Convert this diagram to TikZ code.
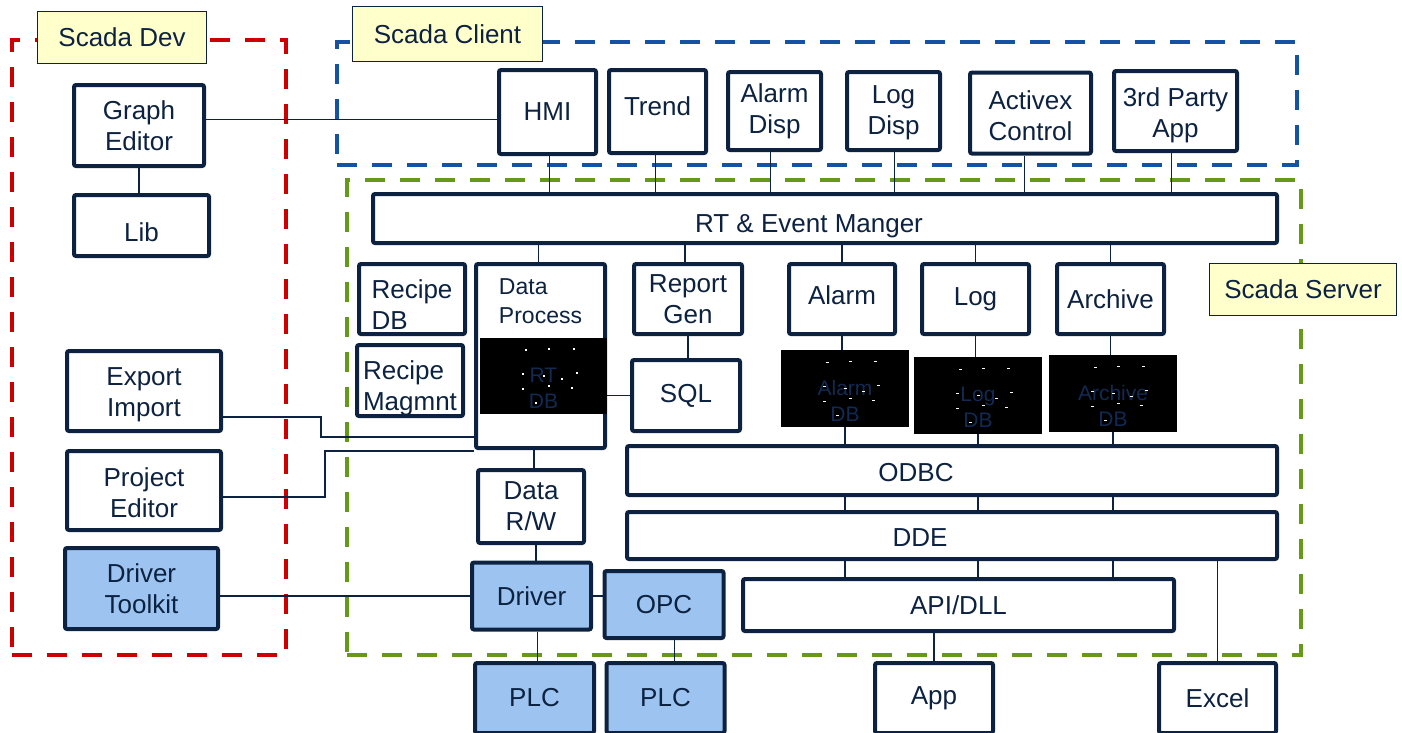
\documentclass[tikz,border=0pt]{standalone}
\usepackage{fontspec}
\setmainfont{Liberation Sans}
\usepackage{tikz}
\usetikzlibrary{shapes,positioning}
\definecolor{navy}{RGB}{12,34,64}
\definecolor{hwblue}{RGB}{157,195,240}
\definecolor{tagyellow}{RGB}{255,255,204}
\definecolor{devred}{RGB}{204,0,0}
\definecolor{clientblue}{RGB}{22,82,163}
\definecolor{servergreen}{RGB}{102,153,26}
\definecolor{dbnavy}{RGB}{18,42,82}
\tikzstyle{box} = [rectangle, draw=navy, line width=4pt, rounded corners=2pt, fill=white, text=navy, align=center, inner sep=0pt, font=\fontsize{26}{31}\selectfont]
\tikzstyle{hwbox} = [box, fill=hwblue]
\tikzstyle{boxtext} = [text=navy, align=center, inner sep=0pt, font=\fontsize{26}{31}\selectfont]
\tikzstyle{dbbox} = [rectangle, fill=black, inner sep=0pt, minimum width=128pt, minimum height=77pt]
\tikzstyle{dbtext} = [text=dbnavy, align=center, inner sep=0pt, yshift=-12pt, font=\fontsize{21}{26}\selectfont]
\tikzstyle{tag} = [rectangle, draw=navy, line width=1.2pt, fill=tagyellow, text=navy, inner sep=0pt, font=\fontsize{26}{31}\selectfont]
\tikzstyle{frame} = [rectangle, line width=4.5pt, dash pattern=on 20pt off 15pt, inner sep=0pt]
\tikzstyle{link} = [draw=navy, line width=1.5pt]

\begin{document}
\begin{tikzpicture}[x=1pt, y=-1pt]
    \useasboundingbox (0,0) rectangle (1402,732);

    % Frames
    \node[frame, draw=devred, minimum width=274pt, minimum height=615pt] (devframe) at (149,347.5) {};
    \node[frame, draw=clientblue, minimum width=960pt, minimum height=123pt] (clientframe) at (817,103.5) {};
    \node[frame, draw=servergreen, minimum width=954pt, minimum height=475pt] (serverframe) at (824,417.5) {};

    % Frame tags
    \node[tag, minimum width=169pt, minimum height=52pt] (devtag) at (122,37.5) {Scada Dev};
    \node[tag, minimum width=190pt, minimum height=55pt] (clienttag) at (447.5,34) {Scada Client};
    \node[tag, minimum width=187pt, minimum height=52pt] (servertag) at (1303,289.5) {Scada Server};

    % Scada Dev
    \node[box, minimum width=130pt, minimum height=81pt] (graph) at (139,125.5) {Graph\\Editor};
    \node[box, minimum width=135pt, minimum height=61pt, text height=33pt] (lib) at (141.5,225.5) {Lib};
    \node[box, minimum width=154pt, minimum height=80pt, label={[boxtext, yshift=-4pt]center:Export\\Import}] (expimp) at (144,391) {};
    \node[box, minimum width=154pt, minimum height=79pt, label={[boxtext, yshift=-2pt]center:Project\\Editor}] (projed) at (144,490.5) {};
    \node[hwbox, minimum width=153pt, minimum height=81pt] (toolkit) at (141.5,588.5) {Driver\\Toolkit};

    % Scada Client
    \node[box, minimum width=97pt, minimum height=84pt] (hmi) at (547.5,112) {HMI};
    \node[box, minimum width=97pt, minimum height=83pt, text depth=10pt] (trend) at (657.5,111.5) {Trend};
    \node[box, minimum width=93pt, minimum height=78pt] (alarmdisp) at (774.5,111) {Alarm\\Disp};
    \node[box, minimum width=93pt, minimum height=78pt, label={[boxtext, yshift=-2pt]center:Log\\Disp}] (logdisp) at (893.5,111) {};
    \node[box, minimum width=121pt, minimum height=81pt, label={[boxtext, yshift=-3pt]center:Activex\\Control}] (activex) at (1030.5,113) {};
    \node[box, minimum width=123pt, minimum height=80pt, label={[boxtext, yshift=-4pt]center:3rd Party\\App}] (third) at (1175.5,111) {};

    % Scada Server
    \node[box, minimum width=904pt, minimum height=49pt, text height=33pt] (rtmgr) at (825,218.5) {RT \& Event Manger\hspace*{32pt}};
    \node[box, minimum width=106pt, minimum height=70pt, label={[boxtext, align=left, yshift=-6pt]center:Recipe\\DB}] (recipedb) at (412,299) {};
    \node[box, minimum width=106pt, minimum height=71pt, label={[boxtext, align=left, yshift=-8pt]center:Recipe\\Magmnt}] (recipem) at (410,380.5) {};
    \node[box, minimum width=129pt, minimum height=184pt,
          label={[anchor=north, yshift=-16pt, align=left, inner sep=0pt, text=navy, font=\fontsize{23}{29}\selectfont]north:Data\\Process}] (dataproc) at (540.5,356) {};
    \node[dbbox, minimum width=127pt, minimum height=76pt, label={[dbtext]center:RT\\DB}] (rtdb) at (543.5,376) {};
    \node[box, minimum width=108pt, minimum height=70pt] (report) at (688,299) {Report\\Gen};
    \node[box, minimum width=108pt, minimum height=71pt] (sql) at (686,395.5) {SQL};
    \node[box, minimum width=106pt, minimum height=70pt, text depth=8pt] (alarm) at (842,299) {Alarm};
    \node[box, minimum width=107pt, minimum height=70pt] (log) at (975.5,299) {Log};
    \node[box, minimum width=107pt, minimum height=70pt] (archive) at (1110.5,299) {Archive};
    \node[dbbox, label={[dbtext]center:Alarm\\DB}] (alarmdb) at (845,388.5) {};
    \node[dbbox, label={[dbtext]center:Log\\DB}] (logdb) at (978,395.5) {};
    \node[dbbox, label={[dbtext]center:Archive\\DB}] (archivedb) at (1113,393.5) {};
    \foreach \n in {rtdb, alarmdb, logdb, archivedb}
        \foreach \dx/\dy in {-19/-27, 4/-28, 29/-28, -22/-3, -1/-1, 32/-4, 17/2, -22/12, 4/9, 27/11, -9/26}
            \fill[white] ([shift={(\dx,\dy)}]\n.center) rectangle ++(2.5,1.5);
    \node[box, minimum width=650pt, minimum height=49pt, text height=23pt] (odbc) at (952,470.5) {ODBC\hspace*{72pt}};
    \node[box, minimum width=650pt, minimum height=47pt, text height=21pt] (dde) at (952,535.5) {DDE\hspace*{64pt}};
    \node[box, minimum width=106pt, minimum height=73pt] (datarw) at (531,506.5) {Data\\R/W};
    \node[hwbox, minimum width=119pt, minimum height=67pt] (driver) at (531.5,596) {Driver};
    \node[hwbox, minimum width=119pt, minimum height=67pt] (opc) at (664,604.5) {OPC};
    \node[box, minimum width=431pt, minimum height=52pt] (api) at (958.5,605) {API/DLL};

    % Field and external
    \node[hwbox, minimum width=119pt, minimum height=70pt] (plc1) at (534.5,698) {PLC};
    \node[hwbox, minimum width=118pt, minimum height=70pt] (plc2) at (665.5,698) {PLC};
    \node[box, minimum width=118pt, minimum height=70pt] (app) at (934,698) {App};
    \node[box, minimum width=117pt, minimum height=70pt] (excel) at (1217.5,698) {Excel};

    % Connections
    \draw[link] ([yshift=6pt]graph.east) -- ([yshift=6pt]graph.east -| hmi.west);
    \draw[link] (graph.south) -- (graph.south |- lib.north);
    \foreach \n/\dx in {hmi/2, trend/-2, alarmdisp/-4, logdisp/1, activex/-6, third/-4}
        \draw[link] ([xshift=\dx pt]\n.south) -- ([xshift=\dx pt]\n.south |- rtmgr.north);
    \foreach \n/\dx in {dataproc/-2, report/-3, alarm/0, log/0, archive/0}
        \draw[link] ([xshift=\dx pt]\n.north) -- ([xshift=\dx pt]\n.north |- rtmgr.south);
    \draw[link] (report.south) -- (report.south |- sql.north);
    \draw[link] (sql.west) -- (sql.west -| rtdb.east);
    \foreach \t/\d in {alarm/alarmdb, log/logdb, archive/archivedb} {
        \draw[link] (\t.south) -- (\t.south |- \d.north);
        \draw[link] (\d.south) -- (\d.south |- odbc.north);
        \draw[link] (\d.south |- odbc.south) -- (\d.south |- dde.north);
        \draw[link] (\d.south |- dde.south) -- (\d.south |- api.north);
    }
    \draw[link] (excel.north) -- (excel.north |- dde.south);
    \draw[link] (app.north) -- (app.north |- api.south);
    \draw[link] ([xshift=3pt]datarw.north) -- ([xshift=3pt]datarw.north |- dataproc.south);
    \draw[link] ([xshift=5pt]datarw.south) -- ([xshift=5pt]datarw.south |- driver.north);
    \draw[link] ([xshift=3pt]plc1.north) -- ([xshift=3pt]plc1.north |- driver.south);
    \draw[link] ([xshift=9pt]plc2.north) -- ([xshift=9pt]plc2.north |- opc.south);
    \draw[link] (driver.east) -- (driver.east -| opc.west);
    \draw[link] (driver.west) -- (driver.west -| toolkit.east);
    \draw[link] ([yshift=-26pt]expimp.east) -- ++(98,0) |- ([yshift=-81pt]dataproc.west);
    \draw[link] ([yshift=-6.5pt]projed.east) -- ++(102,0) |- ([yshift=-95pt]dataproc.west);
\end{tikzpicture}
\end{document}
